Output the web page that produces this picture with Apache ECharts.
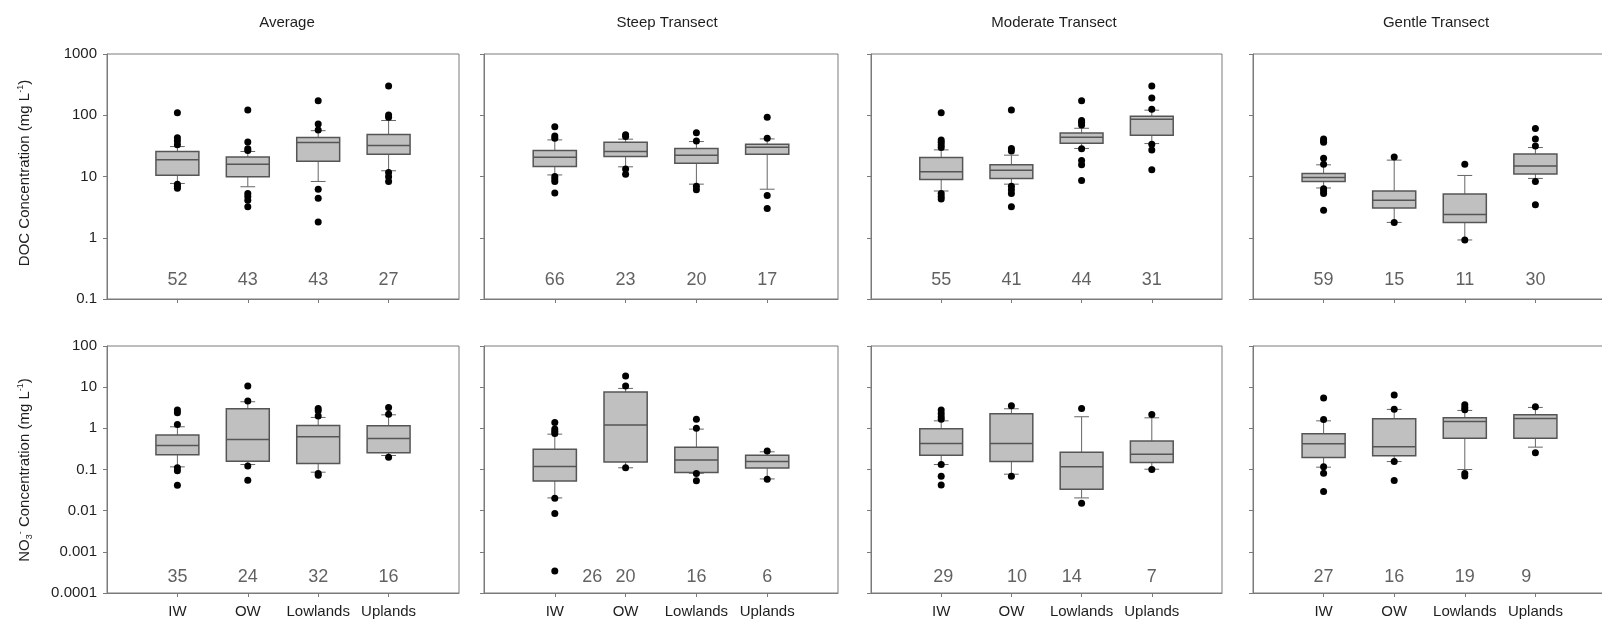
<!DOCTYPE html>
<html>
<head>
<meta charset="utf-8">
<script src="https://cdn.jsdelivr.net/npm/echarts@6/dist/echarts.min.js"></script>
<style>
  html, body { margin: 0; padding: 0; background: #ffffff; }
  #chart { width: 1602px; height: 624px; }
</style>
</head>
<body>
<div id="chart"></div>
<script>
// Site groups and panel headings
const groups = ['IW', 'OW', 'Lowlands', 'Uplands'];
const panelTitles = ['Average', 'Steep Transect', 'Moderate Transect', 'Gentle Transect'];

// Log-axis tick labels, lowest decade first
const docTicks = ['0.1', '1', '10', '100', '1000'];
const no3Ticks = ['0.0001', '0.001', '0.01', '0.1', '1', '10', '100'];

// DOC (mg/L): boxes are [lower whisker, Q1, median, Q3, upper whisker] per group
const docAverageBoxes = [[7.7, 10.5, 18.7, 25.6, 30.8], [6.8, 9.9, 15.9, 20.9, 25.6], [8.3, 17.8, 35.8, 43.3, 56], [12.4, 23.1, 32, 48.4, 82]];
const docAverageOutliers = [[110, 43, 38, 33, 7.5, 6.9, 6.4], [122, 36.7, 28.3, 26.5, 5.3, 4.7, 4.1, 3.2], [173, 72, 57.7, 6.2, 4.4, 1.8], [300, 101, 93, 11.6, 9.9, 8.3]];
const docAverageCounts = [52, 43, 43, 27];

const docSteepBoxes = [[10.6, 14.6, 20.7, 26.5, 39.6], [14.4, 21.2, 25.6, 36.3, 40.7], [7.5, 16.5, 22.3, 28.7, 37.2], [6.2, 23.1, 30, 33.6, 41.1]];
const docSteepOutliers = [[65, 46, 42, 10, 9.1, 8.3, 5.4], [48, 45, 13.2, 10.9], [52, 38, 6.9, 6.1], [93, 42, 4.9, 3.0]];
const docSteepCounts = [66, 23, 20, 17];

const docModerateBoxes = [[5.8, 8.9, 11.9, 20.4, 27.2], [7.5, 9.3, 12.7, 15.5, 22.3], [28.7, 34.9, 43.8, 51.5, 61.3], [34.5, 47.2, 86, 96.4, 121]];
const docModerateOutliers = [[110, 39.6, 36.3, 32.8, 29.7, 5.3, 4.7, 4.3], [122, 28.7, 26.2, 6.9, 6.1, 5.3, 3.2], [173, 82, 76, 69.5, 28.3, 18.2, 15.5, 8.6], [300, 192, 125, 33.6, 27.2, 12.9]];
const docModerateCounts = [55, 41, 44, 31];

const docGentleBoxes = [[6.5, 8.3, 9.6, 11.2, 15.5], [1.78, 3.05, 4.1, 5.8, 18.5], [0.92, 1.78, 2.4, 5.2, 10.4], [9.3, 11.0, 14.9, 23.4, 29.7]];
const docGentleOutliers = [[41, 38.5, 36.3, 19.9, 15.9, 6.3, 5.8, 5.3, 2.8], [20.9, 1.78], [15.9, 0.92], [61, 41, 31.6, 8.3, 3.45]];
const docGentleCounts = [59, 15, 11, 30];

// NO3- (mg/L)
const no3AverageBoxes = [[0.116, 0.227, 0.383, 0.684, 1.09], [0.132, 0.159, 0.536, 2.99, 4.42], [0.086, 0.140, 0.622, 1.17, 1.84], [0.219, 0.254, 0.567, 1.15, 2.13]];
const no3AverageOutliers = [[2.77, 2.39, 1.24, 0.11, 0.093, 0.0415], [10.6, 4.6, 0.122, 0.055], [3.04, 2.67, 1.98, 0.080, 0.073], [3.22, 2.2, 0.199]];
const no3AverageCounts = [35, 24, 32, 16];

const no3SteepBoxes = [[0.0204, 0.0529, 0.118, 0.312, 0.722], [0.110, 0.153, 1.2, 7.6, 9.33], [0.081, 0.0843, 0.171, 0.349, 0.957], [0.059, 0.108, 0.156, 0.223, 0.269]];
const no3SteepOutliers = [[1.39, 0.97, 0.85, 0.75, 0.0200, 0.0085, 0.000342], [18.6, 10.6, 0.11], [1.67, 1.0, 0.08, 0.053], [0.28, 0.058]];
const no3SteepCounts = [26, 20, 16, 6];

const no3ModerateBoxes = [[0.132, 0.223, 0.428, 0.975, 1.52], [0.0769, 0.156, 0.428, 2.26, 2.99], [0.0204, 0.0332, 0.116, 0.264, 1.91], [0.1016, 0.148, 0.236, 0.489, 1.80]];
const no3ModerateOutliers = [[2.77, 2.3, 1.91, 1.67, 0.132, 0.0687, 0.0423], [3.53, 0.0687], [3.04, 0.0151], [2.17, 0.10]];
const no3ModerateCounts = [29, 10, 14, 7];

const no3GentleBoxes = [[0.114, 0.195, 0.421, 0.736, 1.52], [0.156, 0.215, 0.356, 1.71, 2.88], [0.0998, 0.578, 1.47, 1.80, 2.72], [0.349, 0.578, 1.74, 2.13, 3.22]];
const no3GentleOutliers = [[5.43, 1.64, 0.116, 0.0813, 0.0291], [6.43, 2.9, 0.156, 0.054], [3.74, 3.22, 2.84, 0.08, 0.070], [3.35, 0.254]];
const no3GentleCounts = [27, 16, 19, 9];

// ---- layout and styling ----
const FONT = '"Liberation Sans", Arial, Helvetica, sans-serif';
const AXIS_COLOR = '#7a7a7a';
const TEXT_COLOR = '#1e1e1e';
const colLeft = [107, 484, 871, 1253];
const colWidth = [352, 354, 351, 353];
const rowTop = [54, 346];
const rowHeight = [245, 247];
const titleX = [287, 667, 1054, 1436];

// Where each sample-size label sits along the x axis (group slots are 1..4)
const countSlots = {
  'no3-1': [1.53, 2, 3, 4],
  'no3-2': [1.03, 2.08, 2.86, 4],
  'no3-3': [1, 2, 3, 3.87]
};

const rows = [
  { key: 'doc', min: 0.1, max: 1000, ticks: docTicks, countAt: 0.204,
    boxes: [docAverageBoxes, docSteepBoxes, docModerateBoxes, docGentleBoxes],
    outliers: [docAverageOutliers, docSteepOutliers, docModerateOutliers, docGentleOutliers],
    counts: [docAverageCounts, docSteepCounts, docModerateCounts, docGentleCounts] },
  { key: 'no3', min: 0.0001, max: 100, ticks: no3Ticks, countAt: 0.00025,
    boxes: [no3AverageBoxes, no3SteepBoxes, no3ModerateBoxes, no3GentleBoxes],
    outliers: [no3AverageOutliers, no3SteepOutliers, no3ModerateOutliers, no3GentleOutliers],
    counts: [no3AverageCounts, no3SteepCounts, no3ModerateCounts, no3GentleCounts] }
];

const grid = [], xAxis = [], yAxis = [], series = [];

function renderBox(params, api) {
  const x = api.value(0);
  const lo = api.coord([x, api.value(1)]);
  const q1 = api.coord([x, api.value(2)]);
  const med = api.coord([x, api.value(3)]);
  const q3 = api.coord([x, api.value(4)]);
  const hi = api.coord([x, api.value(5)]);
  const unit = api.coord([x + 1, api.value(3)])[0] - med[0];
  const boxW = unit * 0.61;
  const capW = unit * 0.21;
  const cx = med[0];
  const whisker = { stroke: '#666666', lineWidth: 1 };
  return {
    type: 'group',
    children: [
      { type: 'line', shape: { x1: cx, y1: lo[1], x2: cx, y2: q1[1] }, style: whisker },
      { type: 'line', shape: { x1: cx, y1: q3[1], x2: cx, y2: hi[1] }, style: whisker },
      { type: 'line', shape: { x1: cx - capW / 2, y1: lo[1], x2: cx + capW / 2, y2: lo[1] }, style: whisker },
      { type: 'line', shape: { x1: cx - capW / 2, y1: hi[1], x2: cx + capW / 2, y2: hi[1] }, style: whisker },
      { type: 'rect', shape: { x: cx - boxW / 2, y: q3[1], width: boxW, height: q1[1] - q3[1] },
        style: { fill: '#c0c0c0', stroke: '#555555', lineWidth: 1.5 } },
      { type: 'line', shape: { x1: cx - boxW / 2, y1: med[1], x2: cx + boxW / 2, y2: med[1] },
        style: { stroke: '#555555', lineWidth: 1.5 } }
    ]
  };
}

rows.forEach((row, r) => {
  const minExp = Math.round(Math.log10(row.min));
  for (let c = 0; c < 4; c++) {
    const i = r * 4 + c;
    grid.push({
      left: colLeft[c], top: rowTop[r], width: colWidth[c], height: rowHeight[r],
      outerBoundsMode: 'none',
      show: true, borderColor: AXIS_COLOR, borderWidth: 1, backgroundColor: 'transparent'
    });
    xAxis.push({
      gridIndex: i, type: 'value', min: 0, max: 5,
      axisLine: { show: true, onZero: false, lineStyle: { color: AXIS_COLOR, width: 1 } },
      axisTick: { show: true, inside: false, length: 4, customValues: [1, 2, 3, 4], lineStyle: { color: AXIS_COLOR } },
      axisLabel: {
        show: r === 1, customValues: [1, 2, 3, 4], margin: 11,
        formatter: v => groups[Math.round(v) - 1] || '',
        fontFamily: FONT, fontSize: 15, color: TEXT_COLOR
      },
      splitLine: { show: false }
    });
    yAxis.push({
      gridIndex: i, type: 'log', logBase: 10, min: row.min, max: row.max,
      axisLine: { show: true, lineStyle: { color: AXIS_COLOR, width: 1 } },
      axisTick: { show: true, inside: false, length: 4, lineStyle: { color: AXIS_COLOR } },
      minorTick: { show: false },
      axisLabel: {
        show: c === 0, margin: 10,
        formatter: v => row.ticks[Math.round(Math.log10(v)) - minExp] || '',
        fontFamily: FONT, fontSize: 15, color: TEXT_COLOR
      },
      splitLine: { show: false }
    });

    series.push({
      type: 'custom', xAxisIndex: i, yAxisIndex: i, z: 2,
      renderItem: renderBox,
      encode: { x: 0, y: [1, 2, 3, 4, 5] },
      data: row.boxes[c].map((b, k) => [k + 1].concat(b)),
      silent: true
    });

    const pts = [];
    row.outliers[c].forEach((list, k) => list.forEach(v => pts.push([k + 1, v])));
    series.push({
      type: 'scatter', xAxisIndex: i, yAxisIndex: i, z: 3,
      symbol: 'circle', symbolSize: 7,
      itemStyle: { color: '#000000', opacity: 1 },
      data: pts, silent: true
    });

    // sample sizes printed along the bottom of each panel
    const slots = countSlots[row.key + '-' + c] || [1, 2, 3, 4];
    series.push({
      type: 'scatter', xAxisIndex: i, yAxisIndex: i, z: 4,
      symbol: 'circle', symbolSize: 1,
      itemStyle: { color: 'rgba(0,0,0,0)' },
      label: {
        show: true, position: 'inside',
        formatter: p => String(p.value[2]),
        fontFamily: FONT, fontSize: 18, color: '#3a3a3a'
      },
      data: row.counts[c].map((n, k) => [slots[k], row.countAt, n]),
      silent: true
    });
  }
});

// Panel headings and y-axis titles
const graphic = panelTitles.map((t, c) => ({
  type: 'text', x: titleX[c], y: 23,
  style: { text: t, fontFamily: FONT, fontSize: 15, fill: TEXT_COLOR, align: 'center', verticalAlign: 'middle' }
}));
const richStyles = {
  n: { fontFamily: FONT, fontSize: 15, lineHeight: 18, fill: TEXT_COLOR, color: TEXT_COLOR },
  sup: { fontFamily: FONT, fontSize: 9, lineHeight: 9, verticalAlign: 'top', fill: TEXT_COLOR, color: TEXT_COLOR },
  sub: { fontFamily: FONT, fontSize: 9, lineHeight: 9, verticalAlign: 'bottom', fill: TEXT_COLOR, color: TEXT_COLOR }
};
graphic.push({
  type: 'text', x: 25, y: 173, rotation: Math.PI / 2,
  style: { text: '{n|DOC Concentration (mg L}{sup|-1}{n|)}', rich: richStyles, align: 'center', verticalAlign: 'middle' }
});
graphic.push({
  type: 'text', x: 25, y: 470, rotation: Math.PI / 2,
  style: { text: '{n|NO}{sub|3}{sup|-}{n| Concentration (mg L}{sup|-1}{n|)}', rich: richStyles, align: 'center', verticalAlign: 'middle' }
});

const chart = echarts.init(document.getElementById('chart'), null, { renderer: 'canvas' });
chart.setOption({
  backgroundColor: '#ffffff',
  animation: false,
  textStyle: { fontFamily: FONT },
  grid, xAxis, yAxis, series, graphic
});
</script>
</body>
</html>
